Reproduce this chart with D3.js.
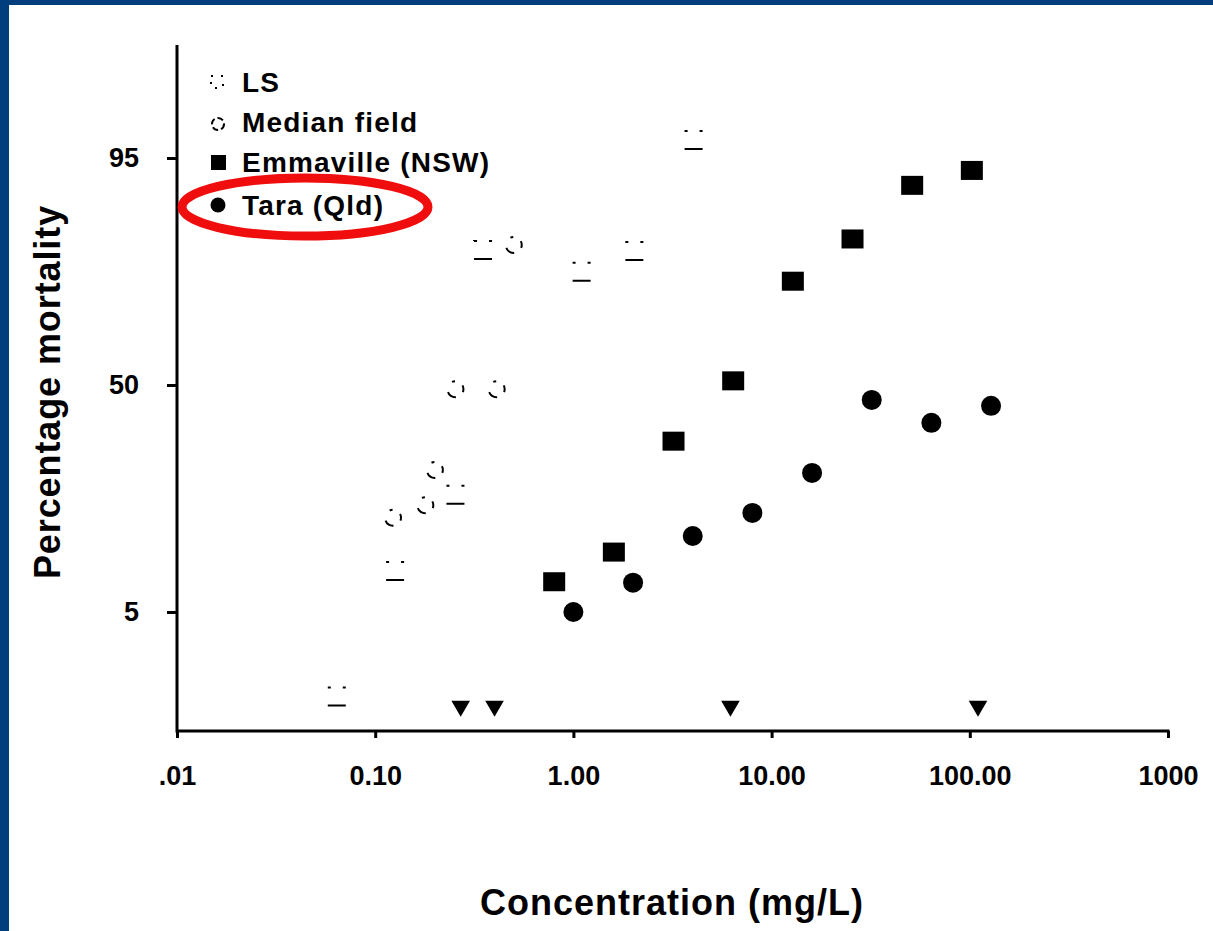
<!DOCTYPE html>
<html>
<head>
<meta charset="utf-8">
<script src="https://cdn.jsdelivr.net/npm/d3@7"></script>
<style>
  body { margin: 0; background: #fff; }
  svg { display: block; font-family: "Liberation Sans", Arial, sans-serif; }
  .tick text { font-weight: bold; font-size: 27px; fill: #000; }
  .tick line { stroke: #000; stroke-width: 3; }
</style>
</head>
<body>
<div id="chart"></div>
<script>
// valores
const emmavilleConc = [0.8, 1.6, 3.2, 6.4, 12.8, 25.6, 51.2, 102.4];
const emmavilleMort = [7.7, 11.3, 34.2, 51.2, 77.4, 85.5, 92.6, 94.0];
const taraConc = [1, 2, 4, 8, 16, 32, 64, 128];
const taraMort = [5.0, 7.6, 13.7, 17.7, 26.2, 45.7, 39.2, 44.0];
const lsConc = [0.064, 0.126, 0.254, 0.35, 1.1, 2.03, 4.04];
const lsMort = [1.2, 8.9, 21.3, 83.6, 79.4, 83.4, 96.2];
const medianConc = [0.123, 0.179, 0.20, 0.254, 0.41, 0.50];
const medianMort = [16.8, 19.2, 26.9, 48.8, 48.8, 84.5];
const arrowConc = [0.27, 0.40, 6.2, 110];
const arrowMort = [1, 1, 1, 1];

const xTicks = [0.01, 0.1, 1, 10, 100, 1000];
const xTickLabels = [".01", "0.10", "1.00", "10.00", "100.00", "1000"];
const yTicks = [5, 50, 95];
const legendLabels = ["LS", "Median field", "Emmaville (NSW)", "Tara (Qld)"];

// probit (inversa de la normal, Acklam)
function probit(p) {
  const a = [-39.69683028665376, 220.9460984245205, -275.9285104469687, 138.3577518672690, -30.66479806614716, 2.506628277459239];
  const b = [-54.47609879822406, 161.5858368580409, -155.6989798598866, 66.80131188771972, -13.28068155288572];
  const c = [-0.007784894002430293, -0.3223964580411365, -2.400758277161838, -2.549732539343734, 4.374664141464968, 2.938163982698783];
  const d = [0.007784695709041462, 0.3224671290700398, 2.445134137142996, 3.754408661907416];
  const pl = 0.02425;
  let q, r;
  if (p < pl) {
    q = Math.sqrt(-2 * Math.log(p));
    return (((((c[0]*q+c[1])*q+c[2])*q+c[3])*q+c[4])*q+c[5]) / ((((d[0]*q+d[1])*q+d[2])*q+d[3])*q+1);
  }
  if (p > 1 - pl) {
    q = Math.sqrt(-2 * Math.log(1 - p));
    return -(((((c[0]*q+c[1])*q+c[2])*q+c[3])*q+c[4])*q+c[5]) / ((((d[0]*q+d[1])*q+d[2])*q+d[3])*q+1);
  }
  q = p - 0.5; r = q * q;
  return (((((a[0]*r+a[1])*r+a[2])*r+a[3])*r+a[4])*r+a[5])*q / (((((b[0]*r+b[1])*r+b[2])*r+b[3])*r+b[4])*r+1);
}

const width = 1213, height = 931;
const mLeft = 177, mRight = 1168, mTop = 45, mBottom = 731;

const svg = d3.select("#chart").append("svg")
  .attr("width", width)
  .attr("height", height);

svg.append("rect").attr("width", width).attr("height", height).attr("fill", "#fff");
// marco azul
svg.append("rect").attr("x", 0).attr("y", 0).attr("width", width).attr("height", 5).attr("fill", "#003e7e");
svg.append("rect").attr("x", 0).attr("y", 0).attr("width", 9).attr("height", height).attr("fill", "#003e7e");

const x = d3.scaleLog().domain([0.01, 1000]).range([mLeft, mRight]);
const z = d3.scaleLinear().domain([probit(0.05), probit(0.95)]).range([612, 158]);
const y = p => z(probit(p / 100));

// ejes
svg.append("g")
  .attr("transform", `translate(0,${mBottom})`)
  .call(d3.axisBottom(x).tickValues(xTicks).tickSize(7).tickPadding(28)
    .tickFormat((d, i) => xTickLabels[i]))
  .call(g => g.select(".domain").remove());

svg.append("g")
  .attr("transform", `translate(${mLeft},0)`)
  .call(d3.axisLeft(z).tickValues(yTicks.map(p => probit(p / 100))).tickSize(10).tickPadding(28)
    .tickFormat((d, i) => yTicks[i]))
  .call(g => g.select(".domain").remove());

svg.append("line").attr("x1", mLeft).attr("x2", mLeft).attr("y1", mTop).attr("y2", mBottom + 1.5)
  .attr("stroke", "#000").attr("stroke-width", 3);
svg.append("line").attr("x1", mLeft).attr("x2", mRight + 1.5).attr("y1", mBottom).attr("y2", mBottom)
  .attr("stroke", "#000").attr("stroke-width", 3);

// series tenues (LS, median field)
svg.selectAll(".ls")
  .data(lsConc.map((c, i) => ({ c, m: lsMort[i] })))
  .enter().append("rect")
  .attr("class", "ls")
  .attr("x", d => x(d.c) - 9)
  .attr("y", d => y(d.m) - 9)
  .attr("width", 18).attr("height", 18)
  .attr("fill", "none").attr("stroke", "#000").attr("stroke-width", 2)
  .attr("stroke-dasharray", "3,12,3,18,18,18");

svg.selectAll(".median")
  .data(medianConc.map((c, i) => ({ c, m: medianMort[i] })))
  .enter().append("circle")
  .attr("class", "median")
  .attr("cx", d => x(d.c))
  .attr("cy", d => y(d.m))
  .attr("r", 8)
  .attr("fill", "none").attr("stroke", "#000").attr("stroke-width", 2)
  .attr("stroke-dasharray", "3,9,10,12");

// Emmaville
svg.selectAll(".emm")
  .data(emmavilleConc.map((c, i) => ({ c, m: emmavilleMort[i] })))
  .enter().append("rect")
  .attr("class", "emm")
  .attr("x", d => x(d.c) - 11)
  .attr("y", d => y(d.m) - 9.5)
  .attr("width", 22).attr("height", 19)
  .attr("fill", "#000");

// Tara
svg.selectAll(".tara")
  .data(taraConc.map((c, i) => ({ c, m: taraMort[i] })))
  .enter().append("circle")
  .attr("class", "tara")
  .attr("cx", d => x(d.c))
  .attr("cy", d => y(d.m))
  .attr("r", 10)
  .attr("fill", "#000");

// flechas
const tri = d3.symbol().type(d3.symbolTriangle).size(150);
svg.selectAll(".arrow")
  .data(arrowConc.map((c, i) => ({ c, m: arrowMort[i] })))
  .enter().append("path")
  .attr("class", "arrow")
  .attr("d", tri)
  .attr("transform", d => `translate(${x(d.c)},${y(d.m)}) rotate(180)`)
  .attr("fill", "#000");

// leyenda
const legY = [82, 122, 162, 205];
const leg = svg.append("g");
leg.append("rect").attr("x", 211).attr("y", legY[0] - 6).attr("width", 12).attr("height", 12)
  .attr("fill", "none").attr("stroke", "#000").attr("stroke-width", 2).attr("stroke-dasharray", "2,8");
leg.append("circle").attr("cx", 218).attr("cy", legY[1] + 2).attr("r", 6)
  .attr("fill", "none").attr("stroke", "#000").attr("stroke-width", 2).attr("stroke-dasharray", "6,3");
leg.append("rect").attr("x", 211).attr("y", legY[2] - 7).attr("width", 15).attr("height", 15).attr("fill", "#000");
leg.append("circle").attr("cx", 218).attr("cy", legY[3]).attr("r", 7.5).attr("fill", "#000");
leg.selectAll("text")
  .data(legendLabels)
  .enter().append("text")
  .attr("x", 242)
  .attr("y", (d, i) => legY[i])
  .attr("dy", "0.36em")
  .attr("font-size", 28)
  .attr("font-weight", "bold")
  .attr("letter-spacing", 1.2)
  .text(d => d);

// elipse roja
svg.append("ellipse")
  .attr("cx", 305).attr("cy", 207).attr("rx", 123).attr("ry", 29)
  .attr("fill", "none").attr("stroke", "#f00d0d").attr("stroke-width", 9);

// etiquetas de ejes
svg.append("text")
  .attr("x", 672).attr("y", 915)
  .attr("text-anchor", "middle")
  .attr("font-size", 36).attr("font-weight", "bold").attr("letter-spacing", 1)
  .text("Concentration (mg/L)");

svg.append("text")
  .attr("transform", "translate(60,392) rotate(-90)")
  .attr("text-anchor", "middle")
  .attr("font-size", 36).attr("font-weight", "bold").attr("letter-spacing", 0.9)
  .text("Percentage mortality");
</script>
</body>
</html>
